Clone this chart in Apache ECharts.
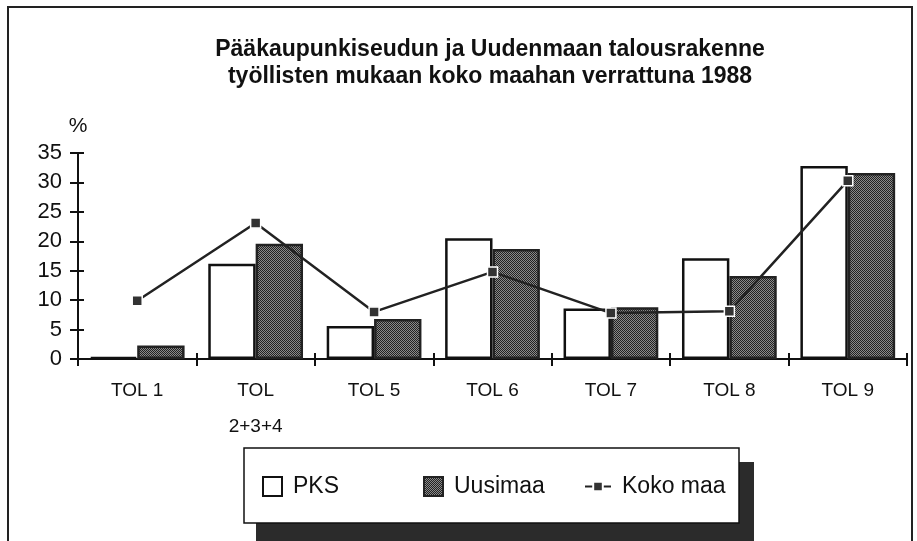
<!DOCTYPE html>
<html>
<head>
<meta charset="utf-8">
<script src="https://cdn.jsdelivr.net/npm/echarts@6/dist/echarts.min.js"></script>
<style>
html,body{margin:0;padding:0;background:#fff;}
#chart{width:917px;height:541px;}
</style>
</head>
<body>
<div id="chart"></div>
<script>
// data
var categories = ['TOL 1', 'TOL\n2+3+4', 'TOL 5', 'TOL 6', 'TOL 7', 'TOL 8', 'TOL 9'];
var pks = [0.3, 16.2, 5.6, 20.5, 8.6, 17.1, 32.8];
var uusimaa = [2.3, 19.6, 6.8, 18.7, 8.8, 14.1, 31.6];
var kokoMaa = [9.9, 23.1, 8.0, 14.8, 7.8, 8.1, 30.3];
var yTicks = [0, 35, 5]; // min, max, interval

var FONT = '"Liberation Sans", Arial, sans-serif';

// rasteroitu harmaa kuvio
function makePattern() {
    var c = document.createElement('canvas');
    c.width = 4; c.height = 4;
    var ctx = c.getContext('2d');
    ctx.fillStyle = '#8a8a8a';
    ctx.fillRect(0, 0, 4, 4);
    ctx.fillStyle = '#222';
    for (var i = 0; i < 4; i++) {
        for (var j = 0; j < 4; j++) {
            if ((i + j) % 2 == 0) ctx.fillRect(i, j, 1, 1);
        }
    }
    return c;
}
var pattern = { image: makePattern(), repeat: 'repeat' };

// yksi selite-kohta
function legendItem(name, left, icon) {
    var d = { name: name };
    if (icon) d.icon = icon;
    return {
        left: left,
        top: 475,
        padding: 0,
        itemWidth: icon ? 19 : 26,
        itemHeight: icon ? 19 : 12,
        textStyle: { fontFamily: FONT, fontSize: 23, color: '#111', padding: [0, 0, 0, 6] },
        data: [d]
    };
}

var chart = echarts.init(document.getElementById('chart'));
var option = {
    backgroundColor: '#fff',
    animation: false,
    title: {
        text: 'Pääkaupunkiseudun ja Uudenmaan talousrakenne\ntyöllisten mukaan koko maahan verrattuna 1988',
        left: 485,
        textAlign: 'center',
        top: 31,
        textStyle: {
            fontFamily: FONT,
            fontSize: 23,
            fontWeight: 'bold',
            color: '#111',
            lineHeight: 27
        }
    },
    graphic: [
        {
            type: 'rect',
            shape: { x: 8, y: 7, width: 904, height: 545 },
            style: { fill: null, stroke: '#222', lineWidth: 2 },
            z: -1
        },
        {
            type: 'rect',
            shape: { x: 256, y: 462, width: 498, height: 80 },
            style: { fill: '#2b2b2b' },
            z: -1
        },
        {
            type: 'rect',
            shape: { x: 244, y: 448, width: 495, height: 75 },
            style: { fill: '#fff', stroke: '#111', lineWidth: 1.5 },
            z: 0
        }
    ],
    legend: [
        legendItem('PKS', 262, 'rect'),
        legendItem('Uusimaa', 423, 'rect'),
        legendItem('Koko maa', 584)
    ],
    grid: {
        left: 78,
        right: 10,
        top: 153,
        bottom: 182
    },
    xAxis: [
        {
            type: 'category',
            data: categories,
            axisLine: { lineStyle: { color: '#111', width: 2 } },
            axisTick: { show: true, inside: false, length: 7, lineStyle: { color: '#111', width: 2 } },
            axisLabel: {
                fontFamily: FONT,
                fontSize: 19,
                color: '#111',
                margin: 14,
                lineHeight: 36
            }
        },
        {
            type: 'category',
            data: categories,
            position: 'bottom',
            axisLine: { show: false },
            axisTick: { show: true, inside: true, length: 6, lineStyle: { color: '#111', width: 2 } },
            axisLabel: { show: false }
        }
    ],
    yAxis: [
        {
            type: 'value',
            min: yTicks[0],
            max: yTicks[1],
            interval: yTicks[2],
            name: '%',
            nameLocation: 'end',
            nameGap: 16,
            nameTextStyle: {
                fontFamily: FONT,
                fontSize: 21,
                color: '#111',
                align: 'center'
            },
            splitLine: { show: false },
            axisLine: { show: true, lineStyle: { color: '#111', width: 2 } },
            axisTick: { show: true, length: 8, lineStyle: { color: '#111', width: 2 } },
            axisLabel: {
                fontFamily: FONT,
                fontSize: 22,
                color: '#111',
                margin: 16
            }
        },
        {
            type: 'value',
            min: yTicks[0],
            max: yTicks[1],
            interval: yTicks[2],
            position: 'left',
            splitLine: { show: false },
            axisLine: { show: false },
            axisTick: { show: true, inside: true, length: 6, lineStyle: { color: '#111', width: 2 } },
            axisLabel: { show: false }
        }
    ],
    series: [
        {
            name: 'PKS',
            type: 'bar',
            data: pks,
            barGap: '0%',
            barCategoryGap: '20%',
            itemStyle: { color: '#fff', borderColor: '#111', borderWidth: 2.5 }
        },
        {
            name: 'Uusimaa',
            type: 'bar',
            data: uusimaa,
            itemStyle: { color: pattern, borderColor: '#222', borderWidth: 2.5 }
        },
        {
            name: 'Koko maa',
            type: 'line',
            data: kokoMaa,
            symbol: 'rect',
            symbolSize: 10,
            lineStyle: { color: '#222', width: 2.5 },
            itemStyle: { color: '#333', borderColor: '#fff', borderWidth: 1.5 },
            z: 5
        }
    ]
};
chart.setOption(option);
</script>
</body>
</html>
